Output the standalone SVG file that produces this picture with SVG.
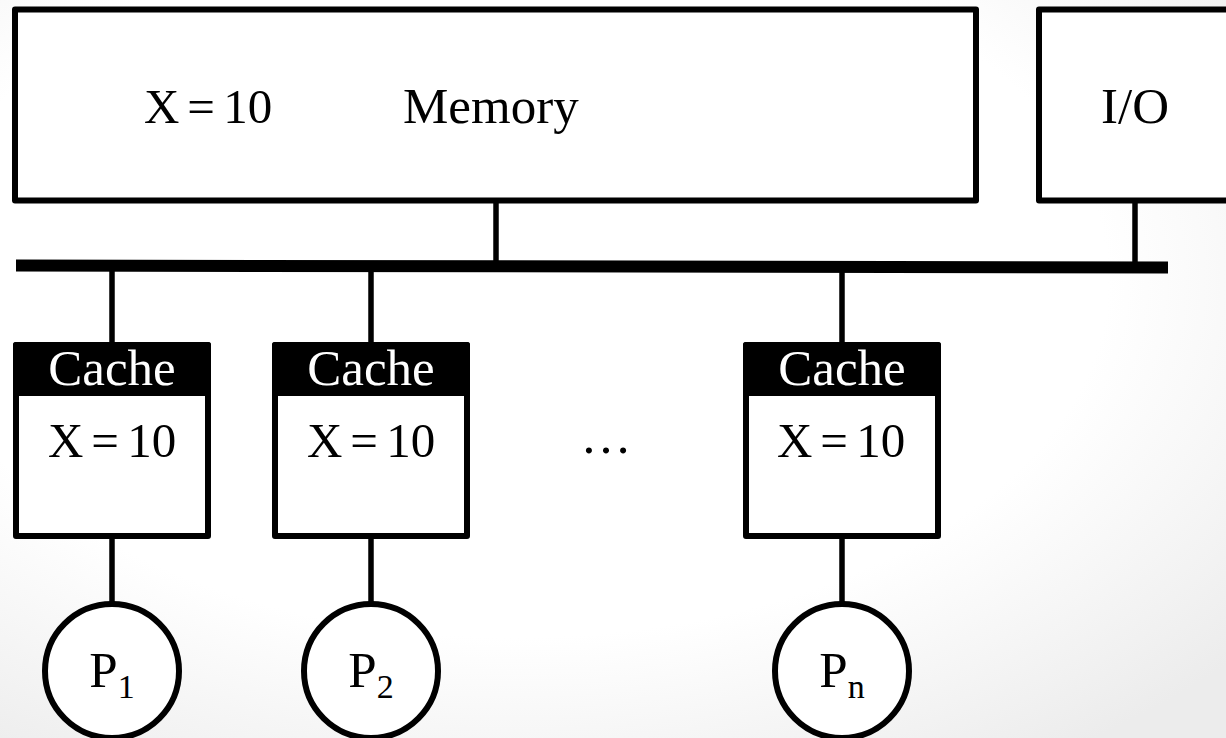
<svg xmlns="http://www.w3.org/2000/svg" width="1226" height="738" viewBox="0 0 1226 738">
  <defs>
    <radialGradient id="bg" cx="0.42" cy="0.38" r="0.78">
      <stop offset="0.62" stop-color="#ffffff"/>
      <stop offset="1" stop-color="#ececec"/>
    </radialGradient>
    <style>
      .box { fill: #ffffff; stroke: #000000; stroke-width: 6; stroke-linejoin: round; }
      .head { fill: #000000; stroke: #000000; stroke-width: 6; stroke-linejoin: round; }
      .wire { stroke: #000000; stroke-width: 5.5; fill: none; }
      .bus { stroke: #000000; stroke-width: 12; fill: none; }
      .lbl { font-family: "Liberation Serif", "Times New Roman", serif; font-size: 51px; fill: #000000; }
      .val { font-size: 49px; }
      .white { fill: #ffffff; }
      .mid { text-anchor: middle; }
      .sub { font-size: 34px; }
    </style>
  </defs>

  <rect x="0" y="0" width="1226" height="738" fill="url(#bg)"/>

  <!-- bus and drop lines -->
  <g id="connectors">
    <line class="bus" x1="16" y1="265.5" x2="1168" y2="267.5"/>
    <line class="wire" x1="496" y1="200" x2="496" y2="262"/>
    <line class="wire" x1="1135" y1="200" x2="1135" y2="263"/>
    <line class="wire" x1="112" y1="270" x2="112" y2="343"/>
    <line class="wire" x1="371" y1="270" x2="371" y2="343"/>
    <line class="wire" x1="842" y1="270" x2="842" y2="343"/>
    <line class="wire" x1="112" y1="536" x2="112" y2="603"/>
    <line class="wire" x1="371" y1="536" x2="371" y2="603"/>
    <line class="wire" x1="842" y1="536" x2="842" y2="603"/>
  </g>

  <g id="memory">
    <rect class="box" x="15" y="9.5" width="961" height="191"/>
    <text class="lbl val" y="123"><tspan x="144">X</tspan><tspan x="187.3">=</tspan><tspan x="223.2">10</tspan></text>
    <text class="lbl" x="403" y="123" font-size="52">Memory</text>
  </g>

  <g id="io">
    <rect class="box" x="1039" y="9.5" width="250" height="191"/>
    <text class="lbl" x="1101" y="123">I/O</text>
  </g>

  <g id="cache1">
    <rect class="box" x="16" y="345" width="192" height="191"/>
    <rect class="head" x="16" y="345" width="192" height="48"/>
    <text class="lbl white mid" x="112" y="385">Cache</text>
    <text class="lbl val" y="457"><tspan x="48">X</tspan><tspan x="91.3">=</tspan><tspan x="127.2">10</tspan></text>
  </g>

  <g id="cache2">
    <rect class="box" x="275" y="345" width="192" height="191"/>
    <rect class="head" x="275" y="345" width="192" height="48"/>
    <text class="lbl white mid" x="371" y="385">Cache</text>
    <text class="lbl val" y="457"><tspan x="307">X</tspan><tspan x="350.3">=</tspan><tspan x="386.2">10</tspan></text>
  </g>

  <g id="cacheN">
    <rect class="box" x="746" y="345" width="192" height="191"/>
    <rect class="head" x="746" y="345" width="192" height="48"/>
    <text class="lbl white mid" x="842" y="385">Cache</text>
    <text class="lbl val" y="457"><tspan x="777">X</tspan><tspan x="820.3">=</tspan><tspan x="856.2">10</tspan></text>
  </g>

  <text id="ellipsis" class="lbl mid" x="606" y="453">…</text>

  <g id="p1">
    <circle class="box" cx="112" cy="671" r="67"/>
    <text class="lbl mid" x="112" y="687" font-size="48">P<tspan class="sub" dy="11">1</tspan></text>
  </g>

  <g id="p2">
    <circle class="box" cx="371" cy="671" r="67"/>
    <text class="lbl mid" x="371" y="687" font-size="48">P<tspan class="sub" dy="11">2</tspan></text>
  </g>

  <g id="pn">
    <circle class="box" cx="842" cy="671" r="67"/>
    <text class="lbl mid" x="842" y="687" font-size="48">P<tspan class="sub" dy="11">n</tspan></text>
  </g>
</svg>
